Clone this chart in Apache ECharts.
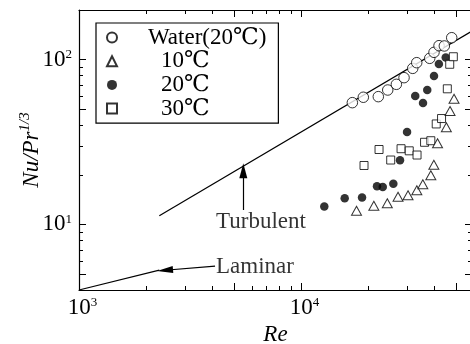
<!DOCTYPE html>
<html>
<head>
<meta charset="utf-8">
<script src="https://cdn.jsdelivr.net/npm/echarts@6/dist/echarts.min.js"></script>
<style>
  html, body { margin: 0; padding: 0; background: #fff; }
  #main { width: 470px; height: 344px; }
</style>
</head>
<body>
<div id="main"></div>
<script>
// Nu/Pr^(1/3) vs Re, log-log
const waterRe = [17030, 19080, 22290, 24580, 26880, 29110, 31850, 33200, 37990, 39720, 41840, 44210, 47720];
const waterNu = [54.8, 59.1, 59.6, 65.4, 70.8, 77.7, 88.5, 95.8, 101.8, 110.7, 121.5, 121.0, 135.8];

const t10Re = [17780, 21280, 24470, 27350, 30340, 33240, 35370, 38430, 39650, 41200, 45140, 46900, 48890];
const t10Nu = [12.09, 12.99, 13.45, 14.71, 15.02, 16.1, 17.52, 19.86, 23.0, 31.05, 38.83, 48.76, 57.9];

const t20Re = [12730, 15730, 18830, 21990, 23340, 26050, 27920, 30030, 32690, 35440, 37030, 39720, 41770, 44860];
const t20Nu = [12.84, 14.42, 14.58, 17.03, 16.87, 17.64, 24.52, 36.4, 60.1, 54.5, 65.4, 79.5, 94.0, 103];

const t30Re = [19220, 22460, 25350, 28220, 30720, 33310, 36010, 38430, 40640, 42950, 45600, 46750, 48530];
const t30Nu = [22.78, 28.48, 24.59, 28.8, 27.96, 26.37, 31.5, 32.2, 40.7, 43.9, 66.5, 93.7, 104.1];

// correlation lines
const turbRe = [2300, 58900];
const turbNu = [11.3, 149];
const lamRe = [1000, 2300];
const lamNu = [4.0, 5.28];

// annotations: [Re, Nu] of arrow tail / head, and text anchors
const turbArrow = [[5496, 12.23], [5496, 21.15]];
const lamArrow = [[4100, 5.59], [2440, 5.27]];
const notes = [[4140, 10.34, 'Turbulent'], [4140, 5.51, 'Laminar']];

const seriesNames = ['Water(20℃)', '10℃', '20℃', '30℃'];

const xMinorTicks = [2000, 3000, 4000, 6000, 7000, 8000, 9000, 20000, 30000, 40000];
const xMajorTicks = [5000, 10000, 50000];
const xLabels = [1000, 10000];
const yMinorTicks = [6, 7, 8, 9, 20, 30, 40, 60, 70, 80, 90];
const yMajorTicks = [5, 10, 50, 100];
const yLabels = [10, 100];

const FONT = '"Liberation Serif", "DejaVu Serif", "Times New Roman", serif';
const zip = (a, b) => a.map((v, i) => [v, b[i]]);

const supLabel = v => '{b|10}{s|' + Math.round(Math.log10(v)) + '}';
const supRich = {
  b: { fontFamily: FONT, fontSize: 23, color: '#000', lineHeight: 23 },
  s: { fontFamily: FONT, fontSize: 13, color: '#000', verticalAlign: 'bottom', padding: [0, 0, 10, 0], lineHeight: 13 }
};

function xAxisOf(pos, ticks, len, withLine, withLabel) {
  return {
    type: 'log', logBase: 10, min: 1000, max: 58900, position: pos,
    axisLine: { show: withLine, lineStyle: { color: '#000', width: 1.2 } },
    axisTick: { show: true, inside: true, length: len, customValues: ticks, lineStyle: { color: '#000', width: 1 } },
    axisLabel: withLabel ? {
      show: true, customValues: xLabels, margin: 6,
      formatter: supLabel,
      rich: { b: Object.assign({}, supRich.b, { padding: [0, 0, 0, 7] }), s: supRich.s }
    } : { show: false },
    splitLine: { show: false },
    minorTick: { show: false }
  };
}

function yAxisOf(pos, ticks, len, withLine, withLabel) {
  return {
    type: 'log', logBase: 10, min: 4, max: 200, position: pos,
    axisLine: { show: withLine, lineStyle: { color: '#000', width: 1.2 } },
    axisTick: { show: true, inside: true, length: len, customValues: ticks, lineStyle: { color: '#000', width: 1 } },
    axisLabel: withLabel ? {
      show: true, customValues: yLabels, margin: 7,
      formatter: supLabel, rich: supRich
    } : { show: false },
    splitLine: { show: false },
    minorTick: { show: false }
  };
}

const xAxes = [
  xAxisOf('bottom', xMinorTicks, 4, true, true),
  xAxisOf('bottom', xMajorTicks, 7, false, false),
  xAxisOf('top', xMinorTicks, 4, true, false),
  xAxisOf('top', xMajorTicks, 7, false, false)
];
Object.assign(xAxes[0], {
  name: 'Re', nameLocation: 'middle', nameGap: 31,
  nameTextStyle: { fontFamily: FONT, fontSize: 23, fontStyle: 'italic', color: '#000' }
});

const yAxes = [
  yAxisOf('left', yMinorTicks, 4, true, true),
  yAxisOf('left', yMajorTicks, 7, false, false),
  yAxisOf('right', yMinorTicks, 4, true, false),
  yAxisOf('right', yMajorTicks, 7, false, false)
];
Object.assign(yAxes[0], {
  name: '{i|Nu/Pr}{s|1/3}', nameLocation: 'middle', nameGap: 36, nameRotate: 90,
  nameMoveOverlap: false,
  nameTextStyle: {
    rich: {
      i: { fontFamily: FONT, fontSize: 23, fontStyle: 'italic', color: '#000', lineHeight: 23 },
      s: { fontFamily: FONT, fontSize: 15, fontStyle: 'italic', color: '#000', verticalAlign: 'bottom', padding: [0, 0, 10, 0], lineHeight: 15 }
    }
  }
});

const white = { color: '#fff', borderColor: '#000', borderWidth: 1 };

const option = {
  backgroundColor: '#fff',
  animation: false,
  grid: { left: 79, top: 10, width: 393, height: 280, outerBoundsMode: 'none', containLabel: false },
  xAxis: xAxes,
  yAxis: yAxes,
  legend: {
    data: seriesNames,
    orient: 'vertical',
    left: 96, top: 23,
    padding: [3, 12, 3, 10],
    itemWidth: 10, itemHeight: 10, itemGap: 0.7,
    borderColor: '#000', borderWidth: 1.2, backgroundColor: '#fff',
    selectedMode: false,
    formatter: name => name === seriesNames[0] ? '{w|' + name + '}' : '{c|' + name + '}',
    textStyle: {
      fontFamily: FONT, fontSize: 23, color: '#000', lineHeight: 22,
      rich: {
        w: { fontFamily: FONT, fontSize: 23, lineHeight: 22, padding: [0, 0, 0, 26] },
        c: { fontFamily: FONT, fontSize: 23, lineHeight: 22, padding: [0, 0, 0, 39] }
      }
    }
  },
  series: [
    { type: 'line', data: zip(turbRe, turbNu), showSymbol: false, silent: true, z: 1,
      lineStyle: { color: '#000', width: 1.2 } },
    { type: 'line', data: zip(lamRe, lamNu), showSymbol: false, silent: true, z: 1,
      lineStyle: { color: '#000', width: 1.2 } },
    {
      type: 'scatter', data: notes, symbolSize: 0, silent: true, z: 1,
      label: { show: true, position: 'right', distance: 0, formatter: p => p.value[2],
        fontFamily: FONT, fontSize: 23, color: '#000' },
      markLine: {
        silent: true, symbol: ['none', 'triangle'], precision: 4,
        label: { show: false },
        lineStyle: { color: '#000', width: 1.2, type: 'solid' },
        data: [
          [{ coord: turbArrow[0], symbolSize: 0 }, { coord: turbArrow[1], symbolSize: [8, 15] }],
          [{ coord: lamArrow[0], symbolSize: 0 }, { coord: lamArrow[1], symbolSize: [7, 16] }]
        ]
      }
    },
    { name: seriesNames[2], type: 'scatter', data: zip(t20Re, t20Nu), symbol: 'circle', symbolSize: 8.5,
      itemStyle: { color: '#000' }, z: 3 },
    { name: seriesNames[3], type: 'scatter', data: zip(t30Re, t30Nu), symbol: 'rect', symbolSize: 8,
      itemStyle: white, z: 3 },
    { name: seriesNames[1], type: 'scatter', data: zip(t10Re, t10Nu), symbol: 'triangle', symbolSize: [10, 9],
      itemStyle: white, z: 3 },
    { name: seriesNames[0], type: 'scatter', data: zip(waterRe, waterNu), symbol: 'circle', symbolSize: 10.5,
      itemStyle: white, z: 4 }
  ]
};

window.addEventListener('DOMContentLoaded', () => {
  const chart = echarts.init(document.getElementById('main'), null, { renderer: 'canvas' });
  chart.setOption(option);
});
</script>
</body>
</html>
